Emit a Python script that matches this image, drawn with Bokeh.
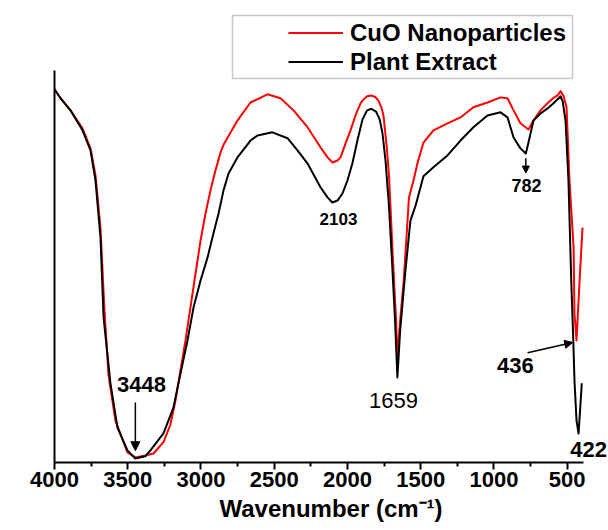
import math
from bokeh.plotting import figure
from bokeh.models import (Range1d, FixedTicker, Legend, LegendItem, Arrow, NormalHead,
                          Label, BoxAnnotation)
from bokeh.embed import file_html
from bokeh.resources import INLINE

# ---------------- data ----------------
wn_plant = [4000, 3959, 3891, 3809, 3754, 3720, 3686, 3665, 3618, 3570, 3502, 3448, 3380,
            3345, 3256, 3188, 3140, 3092, 3051, 3003, 2955, 2915, 2880, 2846, 2812, 2751,
            2662, 2614, 2512, 2409, 2341, 2273, 2184, 2136, 2103, 2068, 2034, 2000, 1966,
            1932, 1897, 1866, 1836, 1805, 1780, 1761, 1740, 1716, 1696, 1675, 1659, 1640,
            1606, 1570, 1535, 1481, 1413, 1317, 1228, 1140, 1044, 955, 907, 866, 819, 782,
            764, 730, 682, 634, 593, 545, 530, 511, 491, 472, 458, 450, 436, 422, 400]
t_plant = [95.2, 92.9, 89.8, 84.7, 79.6, 71.9, 57.4, 37.0, 20.2, 8.9, 3.1, 1.0, 1.6,
           3.1, 7.4, 14.0, 22.7, 31.1, 39.5, 46.4, 52.3, 58.4, 63.5, 69.4, 73.7, 77.8,
           82.1, 83.4, 84.2, 82.7, 79.6, 76.3, 70.2, 67.6, 66.3, 66.8, 68.6, 71.9, 76.3,
           82.1, 87.5, 89.8, 90.2, 89.5, 87.5, 84.0, 77.0, 65.1, 51.5, 36.2, 21.7, 33.7,
           48.2, 61.7, 65.5, 73.0, 75.3, 78.3, 82.1, 85.5, 88.5, 89.3, 88.0, 82.9, 80.1, 78.8,
           81.6, 87.2, 89.0, 90.3, 91.6, 93.4, 92.0, 87.2, 71.9, 46.4, 31.1, 20.9, 10.7, 7.4, 20.2]

wn_cuo = [4000, 3959, 3891, 3809, 3754, 3720, 3686, 3659, 3631, 3584, 3502, 3448, 3380,
          3324, 3256, 3210, 3174, 3140, 3106, 3072, 3037, 3003, 2969, 2935, 2901, 2867, 2846,
          2751, 2662, 2546, 2457, 2368, 2273, 2184, 2136, 2102, 2068, 2047, 2013, 1979,
          1945, 1911, 1890, 1866, 1838, 1810, 1788, 1768, 1754, 1733, 1716, 1689, 1668,
          1659, 1640, 1614, 1580, 1549, 1522, 1481, 1413, 1317, 1228, 1140, 1044, 955, 907,
          866, 819, 764, 730, 682, 634, 593, 566, 545, 525, 504, 484, 456, 450, 436, 415, 395]
t_cuo = [95.2, 92.9, 89.8, 85.2, 80.1, 73.2, 59.7, 38.8, 22.2, 10.7, 2.6, 1.3, 1.8,
         2.3, 5.2, 9.5, 15.8, 23.5, 31.1, 39.5, 48.2, 56.6, 63.5, 69.4, 74.5, 79.0, 81.0,
         87.2, 91.8, 93.9, 92.9, 89.8, 85.5, 80.4, 77.8, 76.5, 77.0, 77.8, 81.4, 84.7,
         88.5, 91.6, 92.6, 93.4, 93.6, 93.2, 92.3, 90.5, 88.5, 81.0, 73.0, 51.5, 36.2,
         26.8, 36.2, 47.2, 67.6, 71.9, 76.3, 81.6, 84.7, 86.5, 88.0, 90.6, 91.8, 93.1, 92.9,
         89.8, 86.5, 84.9, 87.2, 89.8, 91.6, 93.0, 93.6, 94.7, 93.5, 90.6, 71.9, 54.8, 38.0,
         31.1, 46.4, 59.9]

series_names = ["CuO Nanoparticles", "Plant Extract"]
x_ticks = [4000, 3500, 3000, 2500, 2000, 1500, 1000, 500]
x_minor_ticks = [3750, 3250, 2750, 2250, 1750, 1250, 750]

# peak annotations
peak_text = ["3448", "2103", "1659", "782", "436", "422"]
peak_text_x = [3406, 2061, 1686, 778, 853, 354]
peak_text_y = [19.9, 62.2, 15.8, 70.7, 24.7, 3.3]
peak_text_size = ["22px", "17px", "22px", "18px", "22px", "22px"]
peak_text_style = ["bold", "bold", "normal", "bold", "bold", "bold"]

# arrows: (x_start, y_start, x_end, y_end, head size)
arrows = [(3448, 15.3, 3448, 3.0, 9),
          (782, 77.6, 782, 73.8, 7),
          (770, 28.0, 462, 30.6, 8)]

FONT = "Liberation Sans"

# ---------------- figure ----------------
p = figure(width=608, height=530, output_backend="svg", toolbar_location=None,
           x_range=Range1d(4000, 224.5), y_range=Range1d(0, 114.5),
           min_border_left=54, min_border_right=1, min_border_top=13, min_border_bottom=68)
p.outline_line_color = None
p.grid.visible = False
p.background_fill_color = "white"
p.border_fill_color = "white"

r_red = p.line(wn_cuo, t_cuo, line_color="#ff0000", line_width=2, line_join="round")
r_black = p.line(wn_plant, t_plant, line_color="#000000", line_width=2, line_join="round")

# x axis
xa = p.xaxis[0]
xa.ticker = FixedTicker(ticks=x_ticks, minor_ticks=x_minor_ticks)
xa.bounds = (391, 4000)
xa.axis_line_width = 2
xa.axis_line_color = "black"
xa.major_tick_line_width = 2
xa.minor_tick_line_width = 2
xa.major_tick_out = 7
xa.major_tick_in = 0
xa.minor_tick_out = 4
xa.minor_tick_in = 0
xa.major_label_text_font = FONT
xa.major_label_text_font_style = "bold"
xa.major_label_text_font_size = "22px"
xa.major_label_text_color = "black"
xa.major_label_standoff = 2
xa.axis_label = "Wavenumber (cm\u207b\u00b9)"
xa.axis_label_text_font = FONT
xa.axis_label_text_font_style = "bold"
xa.axis_label_text_font_size = "24px"
xa.axis_label_text_color = "black"
xa.axis_label_standoff = 5

# y axis (line only)
ya = p.yaxis[0]
ya.ticker = FixedTicker(ticks=[])
ya.bounds = (0, 100)
ya.axis_line_width = 2
ya.axis_line_color = "black"
ya.major_tick_line_color = None
ya.minor_tick_line_color = None
ya.major_label_text_font_size = "0px"
ya.axis_label = None

# y axis title
p.add_layout(Label(x=-31, y=165, x_units="screen", y_units="screen",
                   text="Transmittance (%)", angle=math.pi / 2,
                   text_font=FONT, text_font_style="bold", text_font_size="23px",
                   text_color="black", text_align="center", text_baseline="middle"))

# legend
box = BoxAnnotation(left=178, right=518, bottom=384, top=447,
                    left_units="screen", right_units="screen",
                    bottom_units="screen", top_units="screen",
                    fill_alpha=0, line_color="#444444", line_width=1.5)
p.add_layout(box)

legend = Legend(items=[LegendItem(label=series_names[0], renderers=[r_red]),
                       LegendItem(label=series_names[1], renderers=[r_black])],
                location=(234, 386), padding=0, spacing=0, margin=0,
                glyph_width=55, glyph_height=29, label_height=29, label_standoff=7,
                label_text_font=FONT, label_text_font_style="bold",
                label_text_font_size="24px", label_text_color="black",
                border_line_alpha=0, background_fill_alpha=0)
p.add_layout(legend, "center")

# peak labels
for txt, x, y, sz, st in zip(peak_text, peak_text_x, peak_text_y, peak_text_size, peak_text_style):
    p.add_layout(Label(x=x, y=y, text=txt, text_font=FONT, text_font_size=sz,
                       text_font_style=st, text_color="black", text_align="center",
                       text_baseline="middle"))

for xs, ys, xe, ye, hs in arrows:
    p.add_layout(Arrow(end=NormalHead(size=hs, fill_color="black", line_color="black"),
                       x_start=xs, y_start=ys, x_end=xe, y_end=ye,
                       line_color="black", line_width=1.5))

open("out.html", "w").write(file_html(p, INLINE))
